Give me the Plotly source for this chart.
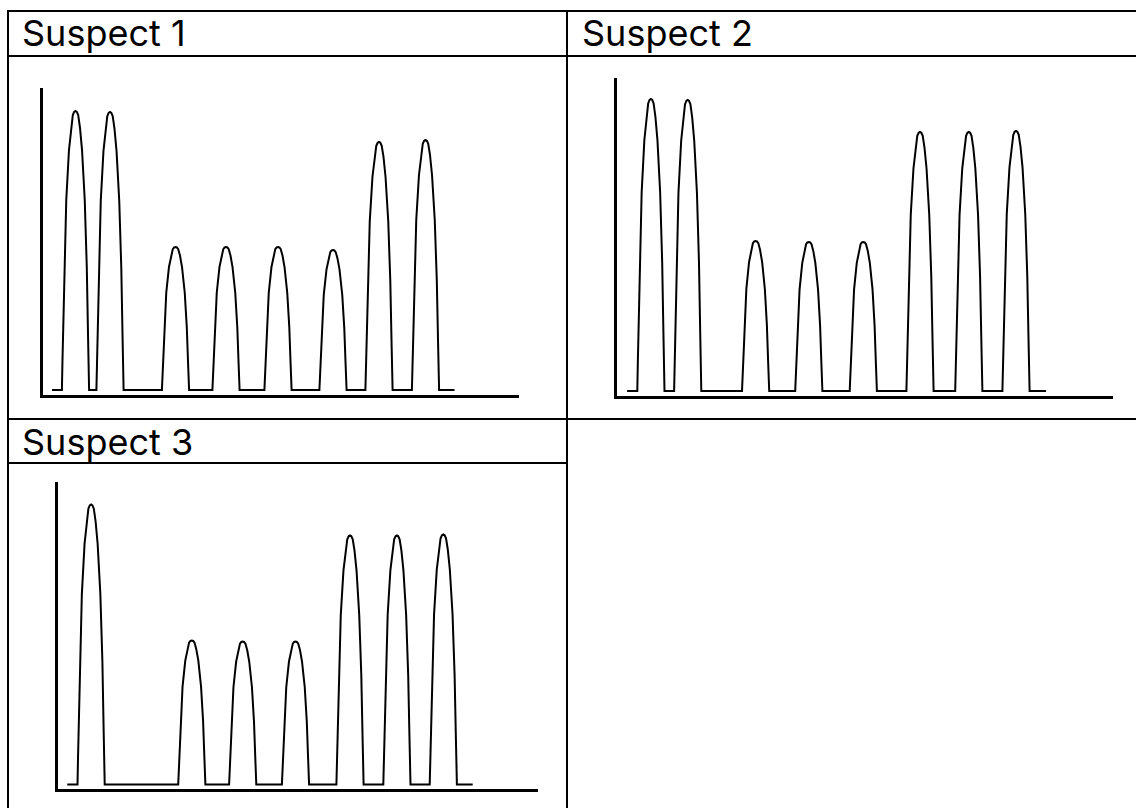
import plotly.graph_objects as go

# ---------------- data ----------------
SUSPECTS = ["Suspect 1", "Suspect 2", "Suspect 3"]

# peak centres (arbitrary position units along the trace) and peak heights
S1_CENTERS = [33.0, 67.5, 133.0, 183.5, 235.5, 290.5, 336.5, 383.0]
S1_HEIGHTS = [279, 278, 143, 143, 143, 140, 248, 250]

S2_CENTERS = [33.9, 70.7, 138.6, 191.8, 246.3, 303.0, 351.8, 399.0]
S2_HEIGHTS = [292, 291, 150, 149, 149, 259, 259, 260]

S3_CENTERS = [33.6, 134.3, 185.2, 238.0, 292.5, 339.4, 385.8]
S3_HEIGHTS = [280, 144, 143, 143, 249, 249, 250]

TRACE_START = [9.5, 10.1, 9.8]
TRACE_END = [412.0, 429.0, 415.2]
AXIS_LEN = [476.5, 496.0, 480.0]

# shape of one peak: distance from centre (fraction of half width)
# versus height (fraction of peak height)
PROFILE_T = [1.00, 0.96, 0.92, 0.83, 0.68, 0.48, 0.33, 0.20, 0.10, 0.00]
PROFILE_H = [0.00, 0.10, 0.20, 0.44, 0.68, 0.86, 0.94, 0.985, 0.997, 1.00]
PEAK_HALF_WIDTH = 13.6

# ---------------- layout helpers (pixels -> paper) ----------------
FW, FH = 1136, 808


def px(x):
    return x / FW


def py(y):
    return 1 - y / FH


# panel geometry in pixels: (x_left, x_right, y_top, y_axis, baseline)
PANELS = [
    (42.5, 519.0, 88.0, 395.0, 390.0),
    (617.0, 1113.0, 78.3, 396.0, 391.0),
    (57.5, 537.5, 481.7, 789.0, 784.5),
]

CENTERS = [S1_CENTERS, S2_CENTERS, S3_CENTERS]
HEIGHTS = [S1_HEIGHTS, S2_HEIGHTS, S3_HEIGHTS]


def build_trace(centers, heights, start, end):
    xs, ys = [start], [0]
    for c, h in zip(centers, heights):
        for t, f in zip(PROFILE_T, PROFILE_H):
            xs.append(c - t * PEAK_HALF_WIDTH)
            ys.append(f * h)
        for t, f in zip(PROFILE_T[-2::-1], PROFILE_H[-2::-1]):
            xs.append(c + t * PEAK_HALF_WIDTH)
            ys.append(f * h)
    xs.append(end)
    ys.append(0)
    return xs, ys


fig = go.Figure()
layout_axes = {}
for i in range(3):
    xl, xr, yt, ya, yb = PANELS[i]
    xs, ys = build_trace(CENTERS[i], HEIGHTS[i], TRACE_START[i], TRACE_END[i])
    xa = "x" if i == 0 else f"x{i+1}"
    ya_name = "y" if i == 0 else f"y{i+1}"
    fig.add_trace(go.Scatter(x=xs, y=ys, mode="lines", xaxis=xa, yaxis=ya_name,
                             line=dict(color="black", width=2), showlegend=False,
                             hoverinfo="skip", name=SUSPECTS[i]))
    key = "" if i == 0 else str(i + 1)
    layout_axes[f"xaxis{key}"] = dict(
        domain=[px(xl), px(xr)], range=[0, AXIS_LEN[i]], anchor=ya_name,
        showline=True, linewidth=3, linecolor="black", showgrid=False,
        zeroline=False, showticklabels=False, ticks="", fixedrange=True)
    layout_axes[f"yaxis{key}"] = dict(
        domain=[py(ya), py(yt)], range=[-(ya - yb), yb - yt], anchor=xa,
        showline=True, linewidth=3, linecolor="black", showgrid=False,
        zeroline=False, showticklabels=False, ticks="", fixedrange=True)

# table borders
shapes = []
def hline(y, x0, x1):
    shapes.append(dict(type="line", xref="paper", yref="paper", x0=px(x0), x1=px(x1),
                       y0=py(y), y1=py(y), line=dict(color="black", width=2)))

def vline(x, y0, y1):
    shapes.append(dict(type="line", xref="paper", yref="paper", x0=px(x), x1=px(x),
                       y0=py(y0), y1=py(y1), line=dict(color="black", width=2)))

hline(11, 7, 1136)
hline(56, 7, 1136)
hline(419, 7, 1136)
hline(463, 7, 567)
vline(8, 10, 808)
vline(567, 10, 808)

annotations = []
TITLE_POS = [(19.5, 33.5), (580.0, 33.5), (20.0, 441.5)]
for name, (tx, ty) in zip(SUSPECTS, TITLE_POS):
    annotations.append(dict(text=name, x=px(tx), y=py(ty), xref="paper", yref="paper",
                            xanchor="left", yanchor="middle", showarrow=False,
                            font=dict(family="Inter", size=36, color="black")))

fig.update_layout(width=FW, height=FH, margin=dict(l=0, r=0, t=0, b=0),
                  paper_bgcolor="white", plot_bgcolor="white",
                  shapes=shapes, annotations=annotations, **layout_axes)

fig.write_html("out.html", config={"displayModeBar": False},
               post_script="document.body.style.margin='0';")
